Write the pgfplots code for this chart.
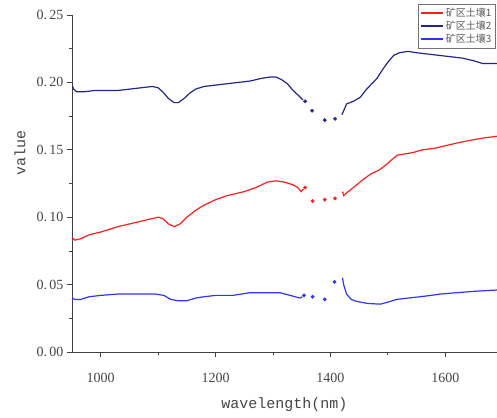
\documentclass[border=0pt]{standalone}
\usepackage{fontspec}
\setmainfont{Liberation Serif}
\newfontfamily\monof{Liberation Mono}
\newfontfamily\cjk{Noto Sans CJK SC}
\usepackage{pgfplots}
\pgfplotsset{compat=1.18}
\definecolor{cred}{RGB}{255,30,30}
\definecolor{cnavy}{RGB}{35,40,135}
\definecolor{cblue}{RGB}{50,50,255}
\definecolor{ctxt}{RGB}{70,70,70}
\begin{document}
\begin{tikzpicture}
\begin{axis}[name=ax,
  scale only axis, width=425pt, height=337pt,
  xmin=950, xmax=1690, ymin=0, ymax=0.25,
  axis x line=bottom, axis y line=left,
  axis line style={-, line width=0.8pt, black!75},
  tick align=outside, tick style={black!75, line width=0.8pt},
  major tick length=5pt, minor tick length=3pt,
  xtick={1000,1200,1400,1600}, minor xtick={1100,1300,1500},
  xticklabels={1000,1200,1400,1600},
  ytick={0,0.05,0.1,0.15,0.2,0.25}, minor ytick={0.025,0.075,0.125,0.175,0.225},
  yticklabels={0.\,00,0.\,05,0.\,10,0.\,15,0.\,20,0.\,25},
  ticklabel style={font=\fontsize{14}{16}\selectfont, text=ctxt},
  xticklabel style={yshift=-13pt},
  xlabel={\monof wavelength(nm)}, ylabel={\monof value},
  every axis x label/.style={at={(axis description cs:0.5,0)}, yshift=-53pt, anchor=center,
     font=\fontsize{15}{16}\selectfont, text=ctxt},
  every axis y label/.style={at={(axis description cs:0,0.592)}, xshift=-52pt, rotate=90, anchor=center,
     font=\fontsize{15}{16}\selectfont, text=ctxt},
  legend style={at={(0.814,1.033)}, anchor=north west, draw=black!55, line width=0.7pt,
    font=\cjk\fontsize{10}{11}\selectfont, text=black!65, inner sep=2pt, row sep=-1pt,
    legend cell align=left},
  legend image code/.code={\draw[#1, line width=1.5pt] (0cm,0cm) -- (0.78cm,0cm);},
  clip=true,
]
\addplot[cred, line width=1.2pt] coordinates {
(950,0.085) (955,0.083) (965,0.084) (980,0.087) (1000,0.089) (1030,0.093) (1060,0.096) (1080,0.098) (1100,0.100) (1108,0.099) (1118,0.095) (1128,0.093) (1138,0.095) (1150,0.100) (1165,0.105) (1180,0.109) (1200,0.113) (1220,0.116) (1250,0.119) (1270,0.122) (1290,0.126) (1305,0.127) (1320,0.126) (1335,0.124) (1343,0.122) (1349,0.119) (1353,0.121)};
\addlegendentry{矿区土壤1}
\addplot[cnavy, line width=1.2pt] coordinates {
(950,0.198) (953,0.195) (958,0.193) (970,0.193) (990,0.194) (1010,0.194) (1030,0.194) (1050,0.195) (1070,0.196) (1090,0.197) (1100,0.196) (1108,0.193) (1118,0.188) (1128,0.185) (1135,0.185) (1145,0.188) (1155,0.192) (1165,0.195) (1180,0.197) (1200,0.198) (1220,0.199) (1240,0.200) (1260,0.201) (1280,0.203) (1295,0.204) (1305,0.204) (1315,0.202) (1325,0.199) (1335,0.194) (1345,0.190) (1352,0.187)};
\addlegendentry{矿区土壤2}
\addplot[cblue, line width=1.2pt] coordinates {
(950,0.040) (955,0.039) (965,0.039) (980,0.041) (1000,0.042) (1030,0.043) (1060,0.043) (1095,0.043) (1110,0.042) (1122,0.039) (1135,0.038) (1150,0.038) (1165,0.040) (1180,0.041) (1200,0.042) (1230,0.042) (1260,0.044) (1290,0.044) (1312,0.044) (1330,0.042) (1347,0.040) (1351,0.041)};
\addlegendentry{矿区土壤3}
% second segments
\addplot[cred, line width=1.2pt, forget plot] coordinates {
(1421,0.119) (1423,0.116) (1428,0.118) (1440,0.122) (1457,0.128) (1470,0.132) (1485,0.135) (1497,0.139) (1505,0.142) (1516,0.146) (1530,0.147) (1544,0.148) (1560,0.150) (1580,0.151) (1600,0.153) (1620,0.155) (1643,0.157) (1670,0.159) (1690,0.160)};
\addplot[cnavy, line width=1.2pt, forget plot] coordinates {
(1420,0.176) (1423,0.179) (1428,0.184) (1440,0.186) (1452,0.189) (1463,0.195) (1472,0.199) (1481,0.203) (1490,0.209) (1500,0.215) (1510,0.220) (1520,0.222) (1535,0.223) (1550,0.222) (1570,0.221) (1590,0.220) (1610,0.219) (1630,0.218) (1650,0.216) (1665,0.214) (1690,0.214)};
\addplot[cblue, line width=1.2pt, forget plot] coordinates {
(1421,0.055) (1423,0.050) (1428,0.043) (1436,0.039) (1446,0.0375) (1465,0.036) (1487,0.0355) (1500,0.037) (1515,0.039) (1535,0.040) (1556,0.041) (1575,0.042) (1591,0.043) (1620,0.044) (1650,0.045) (1690,0.046)};
% isolated points
\addplot[cred, only marks, mark=*, mark size=1.7pt, forget plot] coordinates {(1356,0.122) (1369,0.112) (1390,0.113) (1408,0.114)};
\addplot[cnavy, only marks, mark=*, mark size=1.7pt, forget plot] coordinates {(1356,0.186) (1368,0.179) (1390,0.172) (1408,0.173)};
\addplot[cblue, only marks, mark=*, mark size=1.7pt, forget plot] coordinates {(1354,0.042) (1369,0.041) (1390,0.039) (1407,0.052)};
\end{axis}
\pgfresetboundingbox
\path[use as bounding box] ([shift={(-72pt,-65pt)}]ax.south west) rectangle ([shift={(0pt,15pt)}]ax.north east);
\end{tikzpicture}
\end{document}
